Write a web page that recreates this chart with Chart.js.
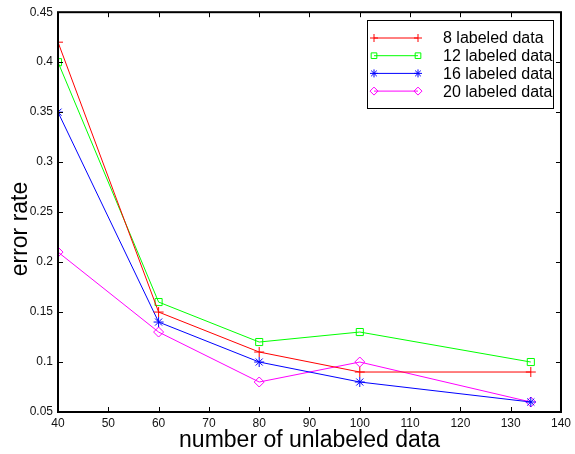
<!DOCTYPE html>
<html>
<head>
<meta charset="utf-8">
<script src="https://cdn.jsdelivr.net/npm/chart.js@4.4.1/dist/chart.umd.min.js"></script>
<style>
  html, body { margin: 0; padding: 0; background: #fff; }
  #wrap { width: 575px; height: 454px; }
</style>
</head>
<body>
<div id="wrap"><canvas id="errChart" width="575" height="454"></canvas></div>
<script>
// unlabeled data counts (x axis)
var unlabeled = [40, 60, 80, 100, 134];

// error rate per number of labeled samples
var err8  = [0.42, 0.15, 0.11, 0.09, 0.09];
var err12 = [0.40, 0.16, 0.12, 0.13, 0.10];
var err16 = [0.35, 0.14, 0.10, 0.08, 0.06];
var err20 = [0.21, 0.13, 0.08, 0.10, 0.06];

var seriesNames = ['8 labeled data', '12 labeled data', '16 labeled data', '20 labeled data'];

// axis ticks
var xTicks = [40, 50, 60, 70, 80, 90, 100, 110, 120, 130, 140];
var yTicks = [0.05, 0.1, 0.15, 0.2, 0.25, 0.3, 0.35, 0.4, 0.45];

var FONT = '"Liberation Sans", Arial, sans-serif';

function toPoints(ys) {
    return ys.map(function (y, i) { return { x: unlabeled[i], y: y }; });
}

function makeSet(label, ys, color, style) {
    return {
        label: label,
        data: toPoints(ys),
        borderColor: color,
        backgroundColor: color,
        pointBorderColor: color,
        pointBackgroundColor: 'rgba(0,0,0,0)',
        pointStyle: style,
        pointRadius: 5,
        pointBorderWidth: 1,
        borderWidth: 1,
        tension: 0
    };
}

// matlab style box + inward ticks + y label (matlab puts it a bit below centre)
var boxPlugin = {
    id: 'boxTicks',
    afterDatasetsDraw: function (chart) {
        var c = chart.ctx, a = chart.chartArea;
        var xs = chart.scales.x, ys = chart.scales.y;
        c.save();
        c.strokeStyle = '#000';
        c.lineWidth = 1;
        c.beginPath();
        xTicks.forEach(function (v) {
            var px = Math.round(xs.getPixelForValue(v)) + 0.5;
            c.moveTo(px, a.bottom); c.lineTo(px, a.bottom - 5);
            c.moveTo(px, a.top); c.lineTo(px, a.top + 5);
        });
        yTicks.forEach(function (v) {
            var py = Math.round(ys.getPixelForValue(v)) + 0.5;
            c.moveTo(a.left, py); c.lineTo(a.left + 5, py);
            c.moveTo(a.right, py); c.lineTo(a.right - 5, py);
        });
        c.stroke();
        c.lineWidth = 2;
        c.strokeRect(a.left, a.top, a.right - a.left, a.bottom - a.top);

        c.translate(21, 229);
        c.rotate(-Math.PI / 2);
        c.fillStyle = '#000';
        c.font = '23px ' + FONT;
        c.textAlign = 'center';
        c.textBaseline = 'middle';
        c.fillText('error rate', 0, 0);
        c.restore();
    }
};

// legend box inside the plot
var legendPlugin = {
    id: 'boxLegend',
    afterDraw: function (chart) {
        var c = chart.ctx;
        var bx = 367, by = 20, bw = 186, bh = 88;
        c.save();
        c.fillStyle = '#fff';
        c.fillRect(bx, by, bw, bh);
        c.strokeStyle = '#000';
        c.lineWidth = 1;
        c.strokeRect(bx + 0.5, by + 0.5, bw, bh);
        c.font = '16px ' + FONT;
        c.textBaseline = 'middle';
        chart.data.datasets.forEach(function (ds, i) {
            var y = 38 + i * 17.7;
            c.strokeStyle = ds.borderColor;
            c.lineWidth = 1;
            c.beginPath();
            c.moveTo(374, y); c.lineTo(418, y);
            c.stroke();
            var opts = { pointStyle: ds.pointStyle, radius: 4, borderWidth: 1, rotation: 0 };
            c.fillStyle = 'rgba(0,0,0,0)';
            Chart.helpers.drawPoint(c, opts, 374, y);
            Chart.helpers.drawPoint(c, opts, 418, y);
            c.fillStyle = '#000';
            c.fillText(ds.label, 443, y + 1);
        });
        c.restore();
    }
};

var ctx = document.getElementById('errChart').getContext('2d');
var errChart = new Chart(ctx, {
    type: 'line',
    data: {
        datasets: [
            makeSet(seriesNames[0], err8, '#ff0000', 'cross'),
            makeSet(seriesNames[1], err12, '#00ff00', 'rect'),
            makeSet(seriesNames[2], err16, '#0000ff', 'star'),
            makeSet(seriesNames[3], err20, '#ff00ff', 'rectRot')
        ]
    },
    options: {
        responsive: false,
        animation: false,
        layout: { padding: { top: 10, right: 10, left: 0, bottom: 0 } },
        plugins: { legend: { display: false }, tooltip: { enabled: false } },
        scales: {
            x: {
                type: 'linear',
                min: 40, max: 140,
                grid: { display: false, drawTicks: false },
                border: { display: false },
                afterBuildTicks: function (s) { s.ticks = xTicks.map(function (v) { return { value: v }; }); },
                afterFit: function (s) { s.height = 42; },
                ticks: {
                    color: '#111', padding: 4,
                    font: { family: FONT, size: 12 },
                    maxRotation: 0
                },
                title: {
                    display: true, text: 'number of unlabeled data', color: '#000',
                    font: { family: FONT, size: 23 },
                    padding: { top: 0, bottom: 0 }
                }
            },
            y: {
                min: 0.05, max: 0.45,
                grid: { display: false, drawTicks: false },
                border: { display: false },
                afterBuildTicks: function (s) { s.ticks = yTicks.map(function (v) { return { value: v }; }); },
                afterFit: function (s) { s.width = 58; },
                ticks: {
                    color: '#111', padding: 5,
                    font: { family: FONT, size: 12 },
                    callback: function (v) { return String(+v.toFixed(2)); }
                },
                title: { display: false }
            }
        }
    },
    plugins: [boxPlugin, legendPlugin]
});
</script>
</body>
</html>
